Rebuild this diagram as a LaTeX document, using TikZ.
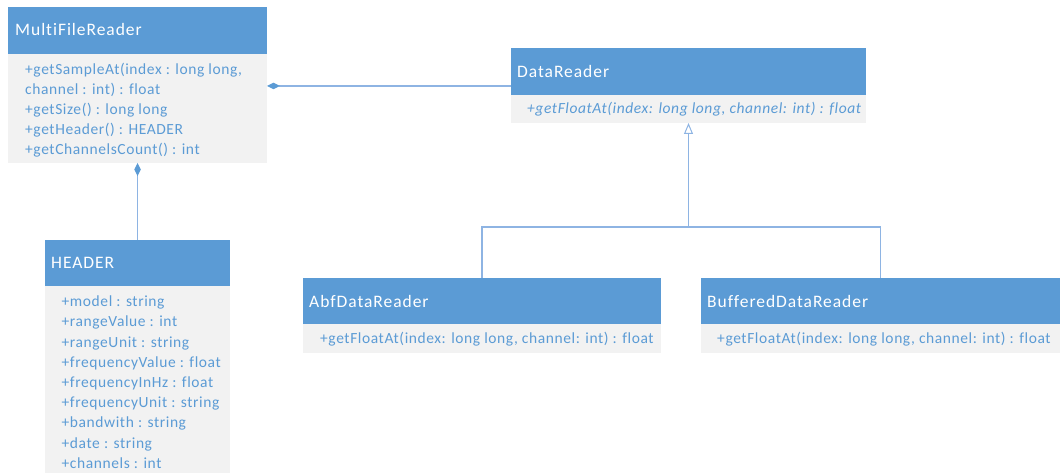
\documentclass[tikz,border=0pt]{standalone}
\usepackage{fontspec}
\setmainfont{Carlito}
\newfontfamily\titlefont[LetterSpace=5.5, Ligatures=NoCommon]{Carlito}
\newfontfamily\memberfont[LetterSpace=3.8, Ligatures=NoCommon]{Carlito}
\usetikzlibrary{arrows.meta}
\definecolor{umlblue}{HTML}{5B9BD5}
\definecolor{umlbody}{HTML}{F2F2F2}
\definecolor{umltext}{HTML}{5B9BD5}
\definecolor{umlline}{HTML}{8EB4E3}
\begin{document}
\begin{tikzpicture}[x=1pt,y=-1pt,
  classhead/.style={fill=umlblue, draw=none, anchor=north west, inner sep=0, outer sep=0},
  classbody/.style={fill=umlbody, draw=none, anchor=north west, inner sep=0, outer sep=0},
  classtitle/.style={anchor=base west, inner sep=0, text=white, font=\titlefont\fontsize{17.5}{20}\selectfont},
  member/.style={anchor=base west, inner sep=0, text=umltext, font=\memberfont\fontsize{15.5}{18}\selectfont},
  link/.style={draw=umlline, line width=1.3pt},
  comp/.style={link, {Diamond[length=13pt, width=6.5pt, fill=umlblue, color=umlblue]}-},
  inh/.style={link, -{Triangle[open, length=11pt, width=9pt, line width=1pt]}}]
\useasboundingbox (0,0) rectangle (1060,473);

% MultiFileReader
\node[classhead, minimum width=259pt, minimum height=47pt] (mfr) at (8,7) {};
\node[classbody, minimum width=259pt, minimum height=109pt] (mfrb) at (8,54) {};
\node[classtitle] (mfrt) at (15,36) {MultiFileReader};
\foreach \t [count=\i] in {{+getSampleAt(index : long long,}, {channel : int) : float},
    {+getSize() : long long}, {+getHeader() : HEADER}, {+getChannelsCount() : int}}
  \node[member] (mfr\i) at (25, {75+(\i-1)*19.8}) {\t};

% HEADER
\node[classhead, minimum width=185pt, minimum height=46pt] (hd) at (45,240) {};
\node[classbody, minimum width=185pt, minimum height=187pt] (hdb) at (45,286) {};
\node[classtitle] (hdt) at (51,269) {HEADER};
\foreach \t [count=\i] in {{+model : string}, {+rangeValue : int}, {+rangeUnit : string},
    {+frequencyValue : float}, {+frequencyInHz : float}, {+frequencyUnit : string},
    {+bandwith : string}, {+date : string}, {+channels : int}}
  \node[member] (hd\i) at (61.5, {306.7+(\i-1)*20.2}) {\t};

% DataReader
\node[classhead, minimum width=355pt, minimum height=47pt] (dr) at (511,48) {};
\node[classbody, minimum width=355pt, minimum height=28pt] (drb) at (511,95) {};
\node[classtitle] (drt) at (517,78) {DataReader};
\node[member, font=\memberfont\fontsize{15.5}{18}\selectfont\itshape] (dr1) at (527,113.5)
  {+getFloatAt(index: long long, channel: int) : float};

% AbfDataReader
\node[classhead, minimum width=358pt, minimum height=46pt] (abf) at (303,278) {};
\node[classbody, minimum width=358pt, minimum height=29pt] (abfb) at (303,324) {};
\node[classtitle] (abft) at (309,307) {AbfDataReader};
\node[member] (abf1) at (320,343) {+getFloatAt(index: long long, channel: int) : float};

% BufferedDataReader
\node[classhead, minimum width=359pt, minimum height=46pt] (buf) at (701,278) {};
\node[classbody, minimum width=359pt, minimum height=29pt] (bufb) at (701,324) {};
\node[classtitle] (buft) at (707,307) {BufferedDataReader};
\node[member] (buf1) at (717,343) {+getFloatAt(index: long long, channel: int) : float};

% compositions
\coordinate (drin) at (511,86);
\draw[comp] (mfrb.east |- drin) -- (drin);
\draw[comp] (mfrb.south) -- (hd.north);

% generalisation
\coordinate (junc) at (688.5,227);
\draw[link] (abf.north) |- (junc) -| (buf.north);
\draw[inh] (junc) -- (drb.south);
\end{tikzpicture}
\end{document}
